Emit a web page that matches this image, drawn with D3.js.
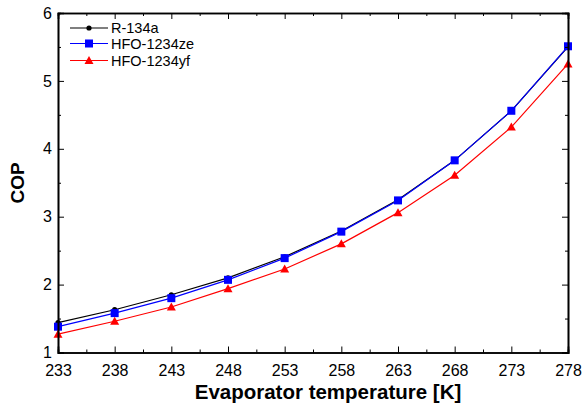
<!DOCTYPE html>
<html><head><meta charset="utf-8">
<script src="https://cdn.jsdelivr.net/npm/d3@7"></script>
<style>body{margin:0;background:#fff}svg{display:block}text{font-family:"Liberation Sans",Arial,sans-serif}</style>
</head><body>
<svg id="c" width="584" height="409"></svg>
<script>
const temps = [233,238,243,248,253,258,263,268,273,278];
const r134a = [1.44,1.63,1.85,2.10,2.41,2.79,3.25,3.83,4.56,5.50];
const hfo1234ze = [1.38,1.58,1.80,2.07,2.39,2.78,3.24,3.83,4.56,5.51];
const hfo1234yf = [1.27,1.46,1.67,1.94,2.23,2.60,3.06,3.61,4.32,5.25];
const xTicks = [233,238,243,248,253,258,263,268,273,278];
const yTicks = [1,2,3,4,5,6];
const seriesNames = ["R-134a","HFO-1234ze","HFO-1234yf"];
const seriesColors = ["#000000","#0000ff","#ff0000"];

const svg = d3.select("#c");
const L=58,R=568,T=13,B=352.5;
const x = d3.scaleLinear().domain([233,278]).range([L,R]);
const y = d3.scaleLinear().domain([1,6]).range([B,T]);

const series = [r134a,hfo1234ze,hfo1234yf].map((v,i)=>({name:seriesNames[i],color:seriesColors[i],values:v}));

const line = d3.line().x((d,i)=>x(temps[i])).y(d=>y(d));
const g = svg.append("g");
series.forEach((s,si)=>{
  g.append("path").attr("d",line(s.values)).attr("fill","none").attr("stroke",s.color).attr("stroke-width",1.2);
});
function marker(sel, si, cx, cy){
  if(si===0) sel.append("circle").attr("cx",cx).attr("cy",cy).attr("r",2.6).attr("fill","#000");
  else if(si===1) sel.append("rect").attr("x",cx-4).attr("y",cy-4).attr("width",8).attr("height",8).attr("fill","#0000ff");
  else sel.append("path").attr("d",`M${cx},${cy-4.5}L${cx+4.5},${cy+3.5}L${cx-4.5},${cy+3.5}Z`).attr("fill","#ff0000");
}
series.forEach((s,si)=>{
  s.values.forEach((v,i)=>marker(g,si,x(temps[i]),y(v)));
});

// axes
const tickFmt = d3.format("d");
svg.append("g").attr("transform",`translate(0,${B})`)
  .call(d3.axisBottom(x).tickValues(xTicks).tickFormat(tickFmt).tickSize(-6).tickPadding(12));
svg.append("g").attr("transform",`translate(0,${T})`)
  .call(d3.axisTop(x).tickValues(xTicks).tickFormat("").tickSize(-6));
svg.append("g").attr("transform",`translate(${L},0)`)
  .call(d3.axisLeft(y).tickValues(yTicks).tickFormat(tickFmt).tickSize(-6).tickPadding(6));
svg.append("g").attr("transform",`translate(${R},0)`)
  .call(d3.axisRight(y).tickValues(yTicks).tickFormat("").tickSize(-6));
// minor ticks
const xMinor = xTicks.slice(0,-1).map(t=>t+2.5);
const yMinor = yTicks.slice(0,-1).map(t=>t+0.5);
svg.append("g").attr("transform",`translate(0,${B})`).call(d3.axisBottom(x).tickValues(xMinor).tickFormat("").tickSize(-3));
svg.append("g").attr("transform",`translate(0,${T})`).call(d3.axisTop(x).tickValues(xMinor).tickFormat("").tickSize(-3));
svg.append("g").attr("transform",`translate(${L},0)`).call(d3.axisLeft(y).tickValues(yMinor).tickFormat("").tickSize(-3));
svg.append("g").attr("transform",`translate(${R},0)`).call(d3.axisRight(y).tickValues(yMinor).tickFormat("").tickSize(-3));
svg.selectAll(".domain").attr("stroke","#000").attr("stroke-width",1.6);
svg.selectAll(".tick line").attr("stroke","#000").attr("stroke-width",1);
svg.selectAll(".tick text").attr("font-size",16).attr("fill","#000").attr("font-family","Liberation Sans, Arial, sans-serif");

// axis titles
svg.append("text").attr("x",328).attr("y",399).attr("text-anchor","middle")
  .attr("font-size",20.5).attr("font-weight","bold").text("Evaporator temperature [K]");
svg.append("text").attr("transform","translate(24,183) rotate(-90)").attr("text-anchor","middle")
  .attr("font-size",19).attr("font-weight","bold").text("COP");

// legend
const leg = svg.append("g");
const rows=[28,43.5,60.5];
series.forEach((s,si)=>{
  const yy=rows[si];
  leg.append("line").attr("x1",70).attr("x2",108).attr("y1",yy).attr("y2",yy).attr("stroke",s.color).attr("stroke-width",1.1);
  marker(leg,si,89,yy);
  leg.append("text").attr("x",111).attr("y",yy+5).attr("font-size",14.5).attr("fill","#000").text(s.name);
});
</script>
</body></html>
